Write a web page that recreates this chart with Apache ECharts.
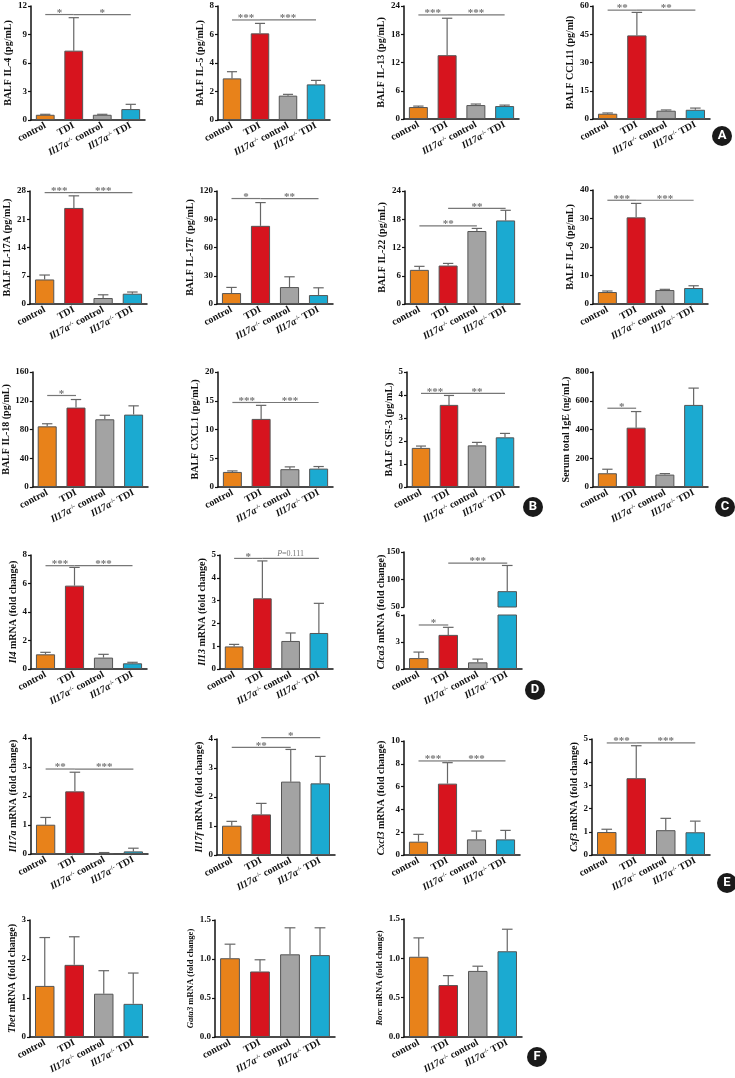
<!DOCTYPE html>
<html>
<head>
<meta charset="utf-8">
<script src="https://cdn.jsdelivr.net/npm/echarts@6/dist/echarts.min.js"></script>
<style>html,body{margin:0;padding:0;background:#fff}#fig{width:735px;height:1078px}</style>
</head>
<body>
<div id="fig"></div>
<script>
var groups = ['control', 'TDI', '{i|Il17a}{s|-/-} control', '{i|Il17a}{s|-/-} TDI'];
var barColors = ['#E8821A', '#D7141E', '#A3A3A3', '#1BAAD1'];

// A - BALF Th2 cytokines
var il4Mean = [0.55, 7.3, 0.55, 1.15],   il4Err = [0.05, 3.47, 0.05, 0.5];
var il4Sig = [[0, 1, 11.1, '*'], [1, 3, 11.1, '*']];
var il5Mean = [2.92, 6.08, 1.71, 2.5],   il5Err = [0.47, 0.7, 0.09, 0.28];
var il5Sig = [[0, 1, 7.02, '***'], [1, 3, 7.02, '***']];
var il13Mean = [2.54, 13.55, 2.96, 2.75], il13Err = [0.2, 7.85, 0.22, 0.2];
var il13Sig = [[0, 1, 22.1, '***'], [1, 3, 22.1, '***']];
var ccl11Mean = [2.8, 44.4, 4.4, 4.9],   ccl11Err = [0.4, 12.2, 0.4, 0.9];
var ccl11Sig = [[0, 1, 57.8, '**'], [1, 3, 57.8, '**']];
// B - BALF Th17 / neutrophil cytokines
var il17aMean = [6.08, 23.8, 1.48, 2.55], il17aErr = [1.1, 3.0, 0.8, 0.42];
var il17aSig = [[0, 1, 27.6, '***'], [1, 3, 27.6, '***']];
var il17fMean = [11.6, 83, 18, 9.5],     il17fErr = [6, 24.7, 10.9, 7.7];
var il17fSig = [[0, 1, 112, '*'], [1, 3, 112, '**']];
var il22Mean = [7.25, 8.17, 15.5, 17.75], il22Err = [0.75, 0.45, 0.55, 2.15];
var il22Sig = [[0, 2, 16.6, '**'], [1, 3, 20.3, '**']];
var il6Mean = [4.2, 30.4, 4.9, 5.6],     il6Err = [0.36, 4.9, 0.25, 0.8];
var il6Sig = [[0, 1, 36.4, '***'], [1, 3, 36.4, '***']];
var il18Mean = [84.4, 110.5, 94.2, 100.7], il18Err = [3.6, 11.2, 5.6, 12.2];
var il18Sig = [[0, 1, 127.3, '*']];
var cxcl1Mean = [2.62, 11.84, 3.1, 3.2],  cxcl1Err = [0.18, 2.36, 0.4, 0.36];
var cxcl1Sig = [[0, 1, 14.7, '***'], [1, 3, 14.7, '***']];
var csf3pMean = [1.7, 3.57, 1.81, 2.16],  csf3pErr = [0.08, 0.41, 0.13, 0.17];
var csf3pSig = [[0, 1, 4.07, '***'], [1, 3, 4.07, '**']];
// C - serum IgE
var igeMean = [95.6, 412.8, 86.3, 571],  igeErr = [28, 112, 7, 117];
var igeSig = [[0, 1, 548, '*']];
// D - Th2 genes
var il4mMean = [1.03, 5.85, 0.8, 0.4],   il4mErr = [0.14, 1.28, 0.23, 0.07];
var il4mSig = [[0, 1, 7.25, '***'], [1, 3, 7.25, '***']];
var il13mMean = [0.99, 3.1, 1.23, 1.58], il13mErr = [0.09, 1.64, 0.35, 1.3];
var il13mSig = [[0, 1, 4.85, '*'], [1, 3, 4.85, 'P=0.111']];
var clca3Mean = [1.21, 3.79, 0.74, 78.8], clca3Err = [0.67, 0.84, 0.36, 46.7];
var clca3Sig = [[0, 1, 4.89, '*'], [1, 3, 129.8, '***']];
// E - Th17 genes
var il17amMean = [1.01, 2.16, 0.035, 0.09], il17amErr = [0.25, 0.66, 0.015, 0.11];
var il17amSig = [[0, 1, 2.93, '**'], [1, 3, 2.93, '***']];
var il17fmMean = [1.01, 1.4, 2.53, 2.47], il17fmErr = [0.15, 0.38, 1.11, 0.93];
var il17fmSig = [[0, 2, 3.71, '**'], [1, 3, 4.05, '*']];
var cxcl3Mean = [1.17, 6.26, 1.37, 1.37], cxcl3Err = [0.64, 1.84, 0.73, 0.79];
var cxcl3Sig = [[0, 1, 8.25, '***'], [1, 3, 8.25, '***']];
var csf3mMean = [0.99, 3.31, 1.07, 0.98], csf3mErr = [0.12, 1.4, 0.51, 0.48];
var csf3mSig = [[0, 1, 4.83, '***'], [1, 3, 4.83, '***']];
// F - transcription factors
var tbetMean = [1.31, 1.85, 1.11, 0.85], tbetErr = [1.24, 0.72, 0.59, 0.79];
var gata3Mean = [1.01, 0.84, 1.06, 1.05], gata3Err = [0.18, 0.15, 0.34, 0.35];
var rorcMean = [1.02, 0.66, 0.84, 1.09], rorcErr = [0.24, 0.12, 0.06, 0.28];

var SERIF = '"Liberation Serif", "DejaVu Serif", serif';

var panels = [
  {name: 'BALF IL-4 (pg/mL)', mean: il4Mean, err: il4Err, sig: il4Sig, parts: [{box: [31, 6, 145, 120], max: 12, step: 3}]},
  {name: 'BALF IL-5 (pg/mL)', mean: il5Mean, err: il5Err, sig: il5Sig, parts: [{box: [218, 6, 330, 120], max: 8, step: 2}]},
  {name: 'BALF IL-13 (pg/mL)', mean: il13Mean, err: il13Err, sig: il13Sig, parts: [{box: [404, 6, 519, 119], max: 24, step: 6}]},
  {name: 'BALF CCL11 (pg/ml)', mean: ccl11Mean, err: ccl11Err, sig: ccl11Sig, parts: [{box: [593, 6, 710, 119], max: 60, step: 15}]},
  {name: 'BALF IL-17A (pg/mL)', mean: il17aMean, err: il17aErr, sig: il17aSig, parts: [{box: [30, 191, 147, 304], max: 28, step: 7}]},
  {name: 'BALF IL-17F (pg/mL)', mean: il17fMean, err: il17fErr, sig: il17fSig, parts: [{box: [217, 191, 333, 304], max: 120, step: 30}]},
  {name: 'BALF IL-22 (pg/mL)', mean: il22Mean, err: il22Err, sig: il22Sig, parts: [{box: [405, 191, 520, 304], max: 24, step: 6}]},
  {name: 'BALF IL-6 (pg/mL)', mean: il6Mean, err: il6Err, sig: il6Sig, parts: [{box: [593, 190, 708, 304], max: 40, step: 10}]},
  {name: 'BALF IL-18 (pg/mL)', mean: il18Mean, err: il18Err, sig: il18Sig, parts: [{box: [29, 372, 148, 487], max: 160, step: 40}]},
  {name: 'BALF CXCL1 (pg/mL)', mean: cxcl1Mean, err: cxcl1Err, sig: cxcl1Sig, parts: [{box: [218, 372, 333, 487], max: 20, step: 5}]},
  {name: 'BALF CSF-3 (pg/mL)', mean: csf3pMean, err: csf3pErr, sig: csf3pSig, parts: [{box: [407, 372, 519, 487], max: 5, step: 1}]},
  {name: 'Serum total IgE (ng/mL)', mean: igeMean, err: igeErr, sig: igeSig, parts: [{box: [593, 372, 708, 487], max: 800, step: 200}]},
  {name: '{i|Il4} mRNA (fold change)', mean: il4mMean, err: il4mErr, sig: il4mSig, parts: [{box: [31, 555, 147, 669], max: 8, step: 2}]},
  {name: '{i|Il13} mRNA (fold change)', mean: il13mMean, err: il13mErr, sig: il13mSig, parts: [{box: [220, 555, 333, 669], max: 5, step: 1}]},
  {name: '{i|Clca3} mRNA (fold change)', mean: clca3Mean, err: clca3Err, sig: clca3Sig, nameAt: [381, 612],
    parts: [{box: [404, 615, 522, 669], max: 6, step: 3}, {box: [404, 552, 522, 607], min: 50, max: 150, step: 50}]},
  {name: '{i|Il17a} mRNA (fold change)', mean: il17amMean, err: il17amErr, sig: il17amSig, parts: [{box: [31, 738, 148, 854], max: 4, step: 1}]},
  {name: '{i|Il17f} mRNA (fold change)', mean: il17fmMean, err: il17fmErr, sig: il17fmSig, parts: [{box: [217, 739, 335, 855], max: 4, step: 1}]},
  {name: '{i|Cxcl3} mRNA (fold change)', mean: cxcl3Mean, err: cxcl3Err, sig: cxcl3Sig, parts: [{box: [404, 741, 520, 855], max: 10, step: 2}]},
  {name: '{i|Csf3} mRNA (fold change)', mean: csf3mMean, err: csf3mErr, sig: csf3mSig, parts: [{box: [592, 739, 710, 855], max: 5, step: 1}]},
  {name: '{i|Tbet} mRNA (fold change)', mean: tbetMean, err: tbetErr, sig: [], parts: [{box: [30, 920, 148, 1037], max: 3, step: 1}]},
  {name: '{i|Gata3} mRNA (fold change)', mean: gata3Mean, err: gata3Err, sig: [], nameSize: 8.6, parts: [{box: [215, 920, 335, 1037], max: 1.5, step: 0.5}]},
  {name: '{i|Rorc} mRNA (fold change)', mean: rorcMean, err: rorcErr, sig: [], nameSize: 8.6, parts: [{box: [404, 919, 522, 1037], max: 1.5, step: 0.5}]}
];

var letters = [['A', 722, 136], ['B', 533, 507], ['C', 725, 507], ['D', 535, 690], ['E', 727, 883], ['F', 537, 1057]];

function fmt(step) {
  return function (v) { return step < 1 ? v.toFixed(1) : String(v); };
}
function tickWidth(part) {
  var s = fmt(part.step)(part.max);
  return s.replace('.', '').length * 4.6 + (s.indexOf('.') >= 0 ? 2.3 : 0);
}

function errRender(params, api) {
  var x = api.value(0), m = api.value(1), e = api.value(2);
  var p0 = api.coord([x, m]), p1 = api.coord([x, m + e]);
  var w = api.size([1, 0])[0] * 0.18;
  var st = {stroke: '#666', lineWidth: 1.2};
  return {type: 'group', children: [
    {type: 'line', shape: {x1: p0[0], y1: p0[1], x2: p1[0], y2: p1[1]}, style: st},
    {type: 'line', shape: {x1: p1[0] - w, y1: p1[1], x2: p1[0] + w, y2: p1[1]}, style: st}
  ]};
}

function sigRender(labels) {
  return function (params, api) {
    var a = api.coord([api.value(0), api.value(2)]);
    var b = api.coord([api.value(1), api.value(2)]);
    var t = labels[params.dataIndex];
    var isP = t.charAt(0) === 'P';
    return {type: 'group', children: [
      {type: 'line', shape: {x1: a[0], y1: a[1], x2: b[0], y2: b[1]}, style: {stroke: '#777', lineWidth: 1.2}},
      {type: 'text', x: (a[0] + b[0]) / 2, y: isP ? a[1] - 1 : a[1] - 1.5,
        style: {text: isP ? '{i|P}' + t.slice(1) : t, align: 'center', verticalAlign: isP ? 'bottom' : 'middle',
          fill: '#777', fontFamily: SERIF, fontSize: isP ? 8 : 11, fontWeight: isP ? 'normal' : 'bold',
          rich: {i: {fontStyle: 'italic', fontFamily: SERIF, fontSize: 8, fill: '#777'}}}}
    ]};
  };
}

var grid = [], xAxis = [], yAxis = [], series = [], graphic = [];

panels.forEach(function (p) {
  var nameSize = p.nameSize || 10;
  var nameStyle = {fontFamily: SERIF, fontWeight: 'bold', fontSize: nameSize, color: '#111',
    rich: {i: {fontFamily: SERIF, fontWeight: 'bold', fontStyle: 'italic', fontSize: nameSize, color: '#111'}}};
  p.parts.forEach(function (part, k) {
    var gi = grid.length;
    var b = part.box;
    var lo = part.min || 0, hi = part.max;
    grid.push({left: b[0], top: b[1], width: b[2] - b[0], height: b[3] - b[1]});
    xAxis.push({
      type: 'category', gridIndex: gi, data: groups, show: k === 0,
      axisLine: {lineStyle: {color: '#111', width: 1.5}},
      axisTick: {alignWithLabel: true, length: 3, lineStyle: {color: '#111', width: 1.2}},
      axisLabel: {interval: 0, rotate: 28, margin: 5, fontFamily: SERIF, fontWeight: 'bold', fontSize: 10, color: '#111',
        rich: {
          i: {fontFamily: SERIF, fontWeight: 'bold', fontStyle: 'italic', fontSize: 10, color: '#111'},
          s: {fontFamily: SERIF, fontWeight: 'bold', fontSize: 6, color: '#111', verticalAlign: 'top', lineHeight: 10}
        }}
    });
    yAxis.push({
      type: 'value', gridIndex: gi, min: lo, max: hi, interval: part.step,
      name: (p.parts.length === 1) ? p.name : '', nameLocation: 'middle', nameRotate: 90,
      nameGap: tickWidth(part) + 8, nameTextStyle: nameStyle,
      axisLine: {show: true, lineStyle: {color: '#111', width: 1.5}},
      axisTick: {show: true, length: 3, lineStyle: {color: '#111', width: 1.2}},
      axisLabel: {formatter: fmt(part.step), margin: 4, fontFamily: SERIF, fontWeight: 'bold', fontSize: 9, color: '#111'},
      splitLine: {show: false}
    });
    series.push({
      type: 'bar', xAxisIndex: gi, yAxisIndex: gi, data: p.mean, barWidth: '66%', z: 2,
      itemStyle: {color: function (d) { return barColors[d.dataIndex]; }, borderColor: '#555', borderWidth: 1}
    });
    var errData = p.mean.map(function (m, i) { return [i, m, p.err[i]]; })
      .filter(function (d) { return d[1] >= lo && d[1] <= hi; });
    series.push({type: 'custom', xAxisIndex: gi, yAxisIndex: gi, data: errData, encode: {x: 0, y: 1},
      renderItem: errRender, z: 3});
    var sigs = p.sig.filter(function (s) {
      var pick = 0;
      p.parts.forEach(function (q, j) { if (s[2] >= (q.min || 0)) pick = j; });
      return pick === k;
    });
    if (sigs.length) {
      series.push({type: 'custom', xAxisIndex: gi, yAxisIndex: gi,
        data: sigs.map(function (s) { return [s[0], s[1], s[2]]; }), encode: {x: [0, 1], y: 2},
        renderItem: sigRender(sigs.map(function (s) { return s[3]; })), z: 4});
    }
  });
  if (p.nameAt) {
    graphic.push({type: 'text', x: p.nameAt[0], y: p.nameAt[1], rotation: Math.PI / 2,
      style: {text: p.name, align: 'center', verticalAlign: 'middle', fill: '#111',
        fontFamily: SERIF, fontWeight: 'bold', fontSize: nameSize,
        rich: {i: {fontFamily: SERIF, fontWeight: 'bold', fontStyle: 'italic', fontSize: nameSize, fill: '#111'}}}});
  }
});

letters.forEach(function (l) {
  graphic.push({type: 'circle', shape: {cx: l[1], cy: l[2], r: 10}, style: {fill: '#1a1a1a'}});
  graphic.push({type: 'text', x: l[1], y: l[2], style: {text: l[0], align: 'center', verticalAlign: 'middle',
    fill: '#fff', fontFamily: 'Roboto, sans-serif', fontWeight: 'bold', fontSize: 13}});
});

var chart = echarts.init(document.getElementById('fig'), null, {renderer: 'canvas'});
chart.setOption({
  animation: false,
  backgroundColor: '#fff',
  grid: grid,
  xAxis: xAxis,
  yAxis: yAxis,
  series: series,
  graphic: graphic
});
</script>
</body>
</html>
